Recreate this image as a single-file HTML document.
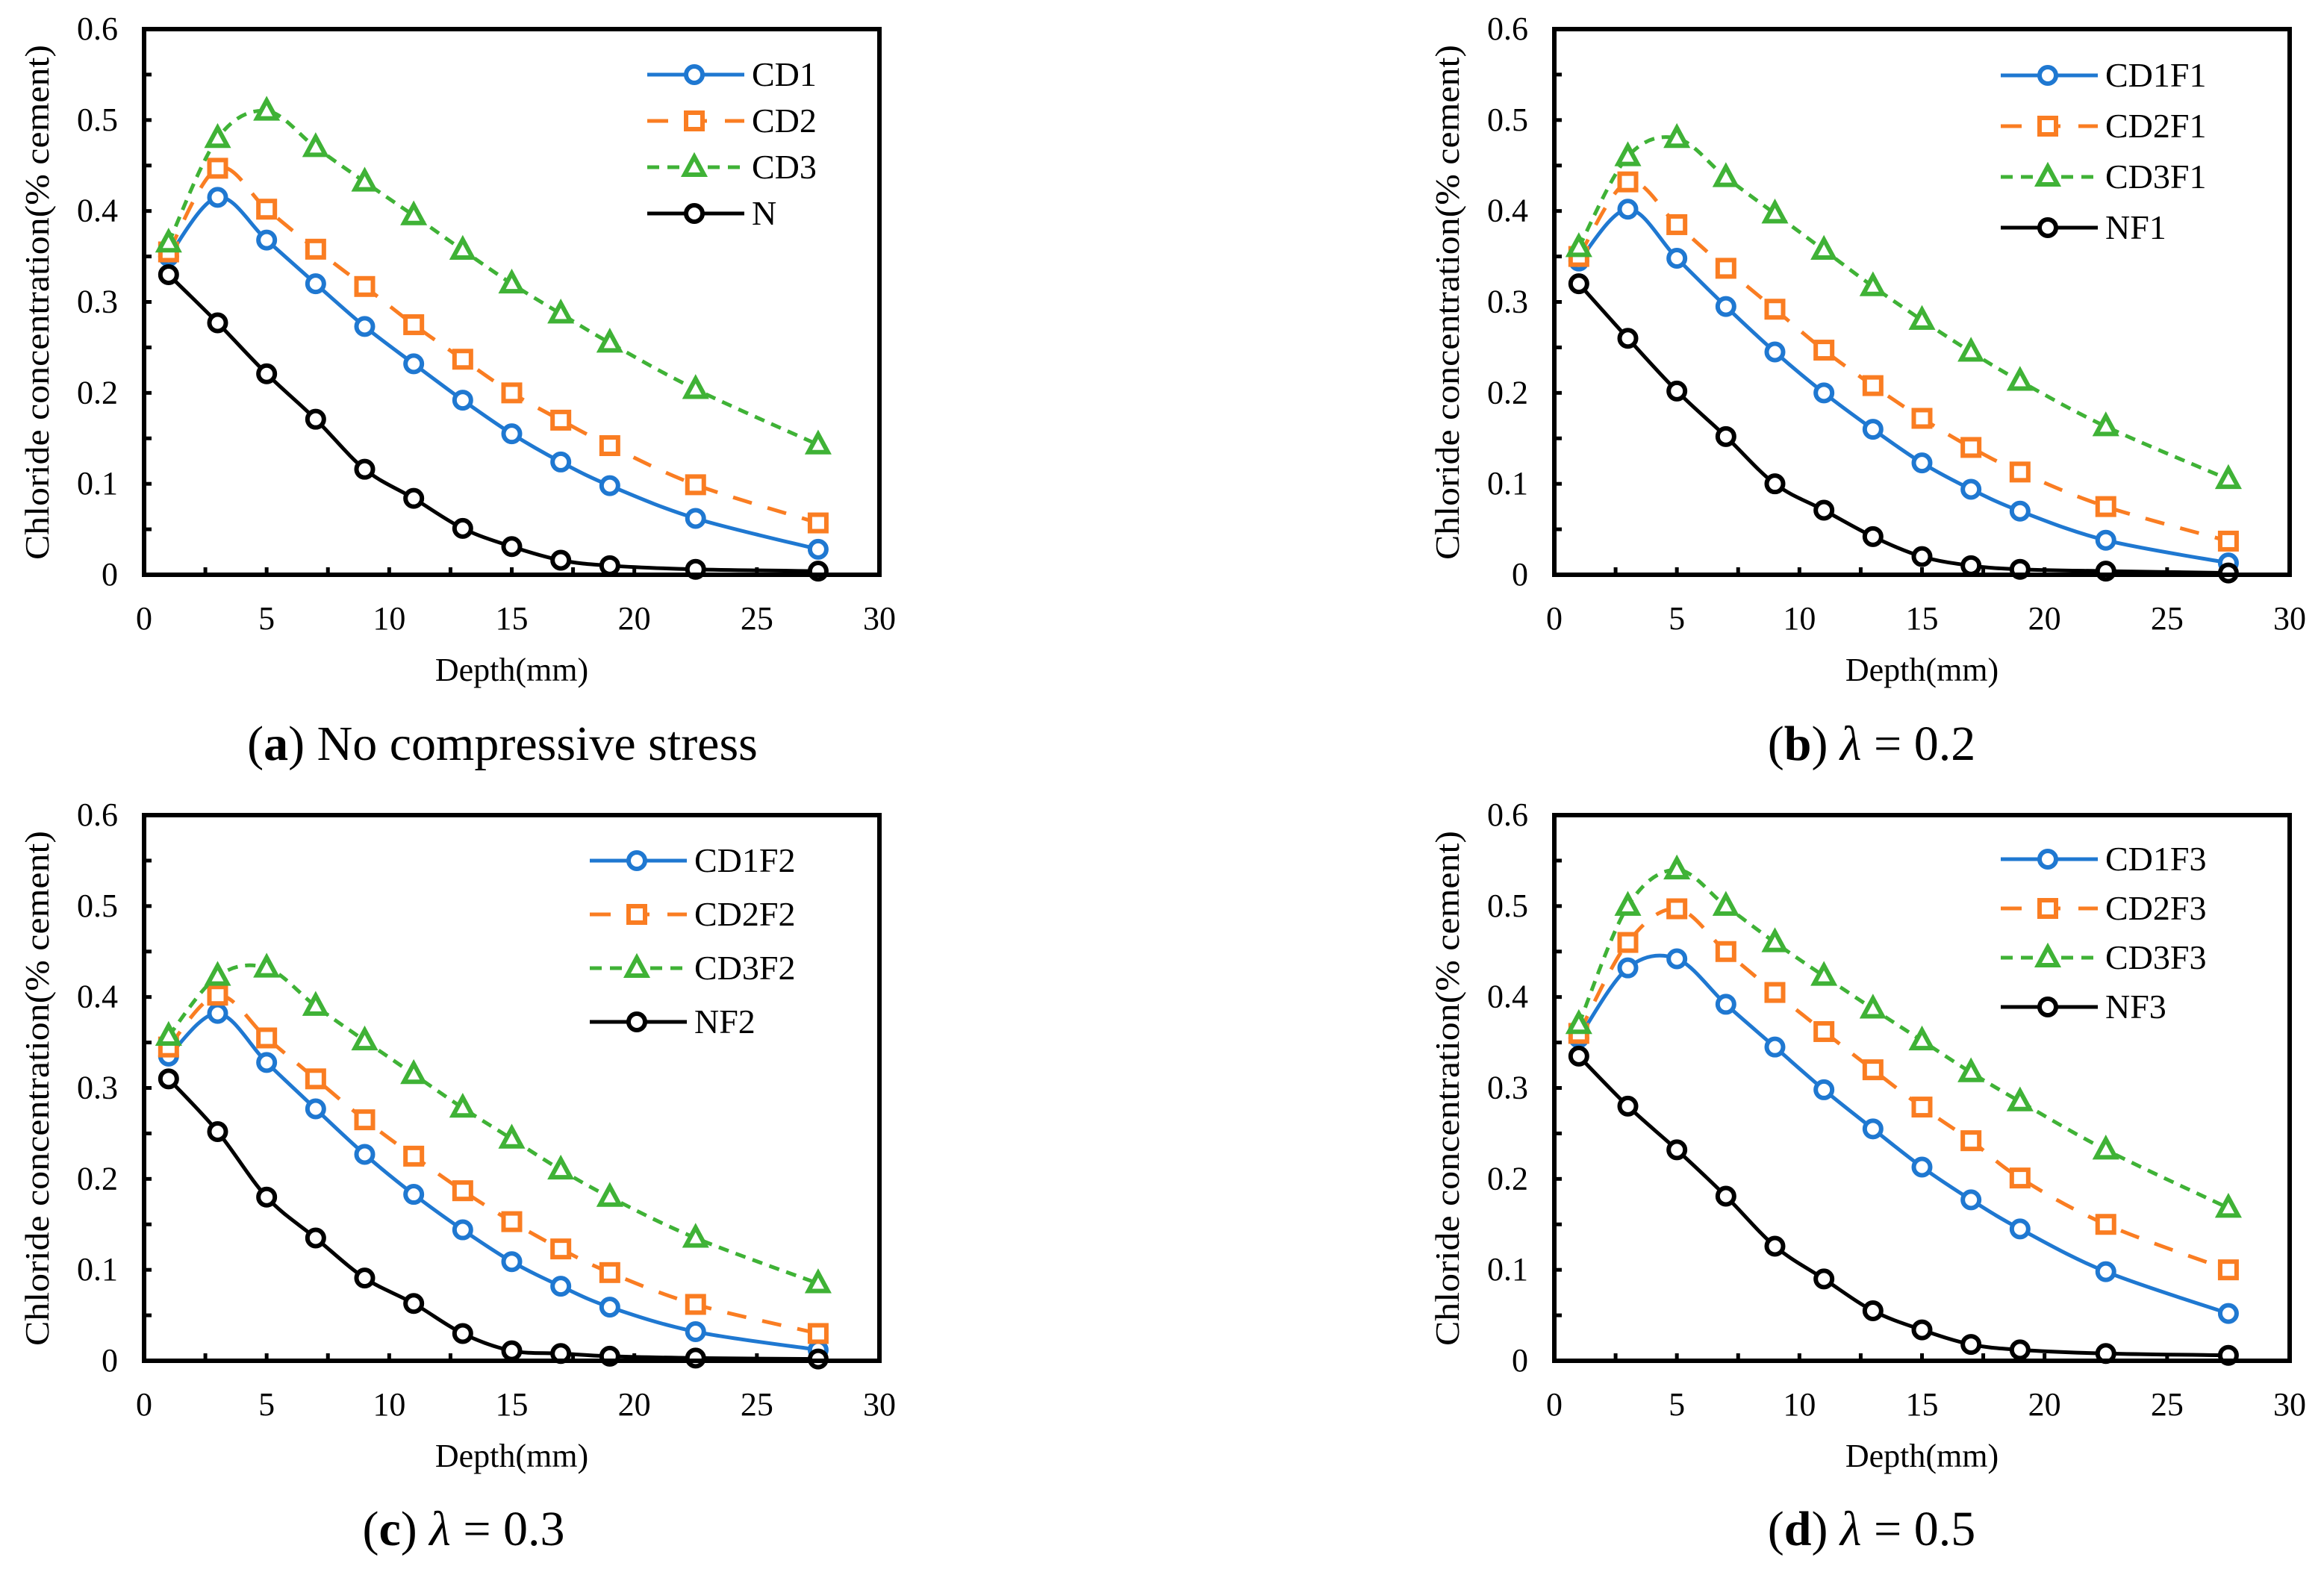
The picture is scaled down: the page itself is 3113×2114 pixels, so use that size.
<!DOCTYPE html>
<html><head><meta charset="utf-8"><style>
html,body{margin:0;padding:0;background:#fff;}
svg{display:block;}
text{font-family:"Liberation Serif","Times New Roman","DejaVu Serif",serif;}
</style></head><body>
<svg id="fig" width="3113" height="2114" viewBox="0 0 3113 2114" xmlns="http://www.w3.org/2000/svg" font-family="Liberation Serif, Times New Roman, DejaVu Serif, serif"></svg>
<script>
const depths = [1,3,5,7,9,11,13,15,17,19,22.5,27.5];
const xTicks = [0,5,10,15,20,25,30];
const yTicks = [0,0.1,0.2,0.3,0.4,0.5,0.6];
// panel a
const aCD1 = [.35,.415,.368,.32,.273,.232,.192,.155,.124,.098,.062,.028];
const aCD2 = [.355,.447,.402,.358,.317,.275,.237,.2,.17,.142,.099,.057];
const aCD3 = [.365,.48,.51,.47,.432,.395,.357,.32,.287,.255,.204,.143];
const aN = [.33,.277,.221,.171,.116,.084,.051,.031,.016,.01,.006,.004];
// panel b
const bCD1 = [.345,.402,.348,.295,.245,.2,.16,.123,.094,.07,.038,.013];
const bCD2 = [.35,.432,.385,.337,.292,.247,.208,.172,.14,.113,.075,.037];
const bCD3 = [.36,.46,.48,.437,.397,.357,.317,.28,.245,.213,.163,.105];
const bN = [.32,.26,.202,.152,.1,.071,.042,.02,.01,.006,.004,.002];
// panel c
const cCD1 = [.335,.382,.328,.277,.227,.183,.144,.109,.082,.059,.032,.012];
const cCD2 = [.345,.402,.355,.31,.265,.225,.187,.153,.123,.097,.062,.03];
const cCD3 = [.357,.423,.432,.39,.352,.315,.278,.244,.21,.18,.135,.085];
const cN = [.31,.252,.18,.135,.091,.063,.03,.011,.008,.005,.003,.002];
// panel d
const dCD1 = [.355,.432,.442,.392,.345,.298,.255,.213,.177,.145,.098,.052];
const dCD2 = [.36,.46,.497,.45,.405,.362,.32,.279,.242,.201,.15,.1];
const dCD3 = [.37,.5,.54,.5,.46,.423,.387,.352,.317,.285,.232,.168];
const dN = [.335,.28,.232,.181,.126,.09,.055,.034,.018,.012,.008,.006];

const NS="http://www.w3.org/2000/svg";
const svg=document.getElementById('fig');
const FF='"Liberation Serif","Times New Roman","DejaVu Serif",serif';
function mk(tag,attrs,parent){const e=document.createElementNS(NS,tag);for(const k in attrs)e.setAttribute(k,attrs[k]);if(tag==='text')e.style.fontFamily=FF;(parent||svg).appendChild(e);return e;}

const styles={
 blue:{c:'#1f78d1',dash:'',m:'circle'},
 orange:{c:'#fa7d22',dash:'26 22',m:'square'},
 green:{c:'#3fb236',dash:'14 10',m:'triangle'},
 black:{c:'#000',dash:'',m:'circle'}
};

function marker(g,type,x,y,c){
 let e;
 if(type==='circle') e=mk('circle',{cx:x,cy:y,r:11,fill:'#fff',stroke:c,'stroke-width':6},g);
 else if(type==='square') e=mk('rect',{x:x-11,y:y-11,width:22,height:22,fill:'#fff',stroke:c,'stroke-width':6},g);
 else e=mk('polygon',{points:`${x},${y-14} ${x+13},${y+10} ${x-13},${y+10}`,fill:'#fff',stroke:c,'stroke-width':6},g);
 return e;
}

function smooth(pts){
 let d=`M${pts[0][0]},${pts[0][1]}`;
 for(let i=0;i<pts.length-1;i++){
  const p0=pts[Math.max(i-1,0)],p1=pts[i],p2=pts[i+1],p3=pts[Math.min(i+2,pts.length-1)];
  const t=1/6;
  d+=` C${p1[0]+(p2[0]-p0[0])*t},${p1[1]+(p2[1]-p0[1])*t} ${p2[0]-(p3[0]-p1[0])*t},${p2[1]-(p3[1]-p1[1])*t} ${p2[0]},${p2[1]}`;
 }
 return d;
}

function panel(id,L,T,series,legend,caption,capX,capY){
 const W=985,H=731;
 const g=mk('g',{});
 
 
 const sx=v=>L+v/30*W, sy=v=>T+H-v/0.6*H;
 for(let v=0;v<=30.001;v+=2.5){mk('line',{x1:sx(v),x2:sx(v),y1:T+H,y2:T+H-10,stroke:'#000','stroke-width':5},g);}
 for(let v=0;v<=0.6001;v+=0.05){mk('line',{x1:L,x2:L+10,y1:sy(v),y2:sy(v),stroke:'#000','stroke-width':5},g);}
 xTicks.forEach(v=>{const t=mk('text',{x:sx(v),y:T+H+73,'font-size':44,'text-anchor':'middle'},g);t.textContent=v;
  });
 yTicks.forEach(v=>{const t=mk('text',{x:L-35,y:sy(v)+14,'font-size':44,'text-anchor':'end'},g);t.textContent=v===0?'0':v.toFixed(1);
  });
 const xt=mk('text',{x:L+W/2,y:T+H+142,'font-size':44,'text-anchor':'middle'},g);xt.textContent='Depth(mm)';
 
 const yt=mk('text',{x:0,y:0,'font-size':46,'text-anchor':'middle',textLength:690,lengthAdjust:'spacingAndGlyphs',transform:`translate(${L-128},${T+366}) rotate(-90)`},g);yt.textContent='Chloride concentration(% cement)';
 
 series.forEach((s,i)=>{
  const st=styles[s.style];
  const sg=mk('g',{},g);
  
  
  const pts=depths.map((x,j)=>[sx(x),sy(s.vals[j])]);
  mk('path',{d:smooth(pts),fill:'none',stroke:st.c,'stroke-width':5,'stroke-dasharray':st.dash},sg);
  pts.forEach(p=>{const m=marker(sg,st.m,p[0],p[1],st.c);
   });
 });
 mk('rect',{x:L,y:T,width:W,height:H,fill:'none',stroke:'#000','stroke-width':6},g);
 const lg=mk('g',{},g);
 
 legend.names.forEach((n,i)=>{
  const st=styles[series[i].style];
  const y=legend.y0+i*legend.dy;
  const e=mk('g',{},lg);
  
  mk('line',{x1:legend.x,x2:legend.x+130,y1:y,y2:y,stroke:st.c,'stroke-width':5,'stroke-dasharray':st.dash?(st.m==='square'?'28 24':'16 11'):''},e);
  marker(e,st.m,legend.x+63,y,st.c);
  const t=mk('text',{x:legend.x+140,y:y+15,'font-size':46},e);t.textContent=n;
 });
 const cp=mk('text',{x:capX,y:capY,'font-size':66,'text-anchor':'middle'},g);
 
 cp.innerHTML=caption;
}
const S=(v,s)=>({vals:v,style:s});
panel('a',193,39,[S(aCD1,'blue'),S(aCD2,'orange'),S(aCD3,'green'),S(aN,'black')],
 {names:['CD1','CD2','CD3','N'],x:867,y0:100,dy:62},'(<tspan font-weight="bold">a</tspan>) No compressive stress',673,1018);
panel('b',2082,39,[S(bCD1,'blue'),S(bCD2,'orange'),S(bCD3,'green'),S(bN,'black')],
 {names:['CD1F1','CD2F1','CD3F1','NF1'],x:2680,y0:101,dy:68},'(<tspan font-weight="bold">b</tspan>) <tspan font-style="italic">λ</tspan> = 0.2',2507,1018);
panel('c',193,1092,[S(cCD1,'blue'),S(cCD2,'orange'),S(cCD3,'green'),S(cN,'black')],
 {names:['CD1F2','CD2F2','CD3F2','NF2'],x:790,y0:1153,dy:72},'(<tspan font-weight="bold">c</tspan>) <tspan font-style="italic">λ</tspan> = 0.3',621,2070);
panel('d',2082,1092,[S(dCD1,'blue'),S(dCD2,'orange'),S(dCD3,'green'),S(dN,'black')],
 {names:['CD1F3','CD2F3','CD3F3','NF3'],x:2680,y0:1151,dy:66},'(<tspan font-weight="bold">d</tspan>) <tspan font-style="italic">λ</tspan> = 0.5',2507,2070);
</script>
</body></html>
